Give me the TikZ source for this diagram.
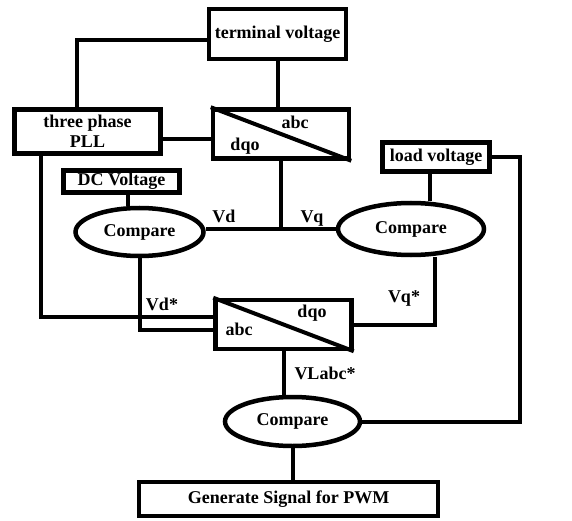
\documentclass[tikz,border=0pt]{standalone}
\usepackage{fontspec}
\setmainfont{Liberation Serif}
\usetikzlibrary{shapes.geometric,positioning}

\begin{document}
\begin{tikzpicture}[x=1pt,y=-1pt,line width=4pt,
                    font=\fontsize{18}{20}\selectfont\bfseries,
                    box node/.style={rectangle,draw,line width=4.5pt,inner sep=1pt},
                    cmp node/.style={ellipse,draw,line width=4.5pt,inner sep=1pt,minimum width=128pt,minimum height=48pt},
                    conv node/.style={rectangle,draw,line width=4.5pt,minimum width=136pt,minimum height=49pt},
                    lbl/.style={inner sep=0pt}]
  \useasboundingbox (0,0) rectangle (572,521);

  \node[box node,minimum width=137pt,minimum height=50pt] (1) at (277.5,34) {terminal voltage};
  \node[box node,minimum width=146pt,minimum height=44pt,align=center] (2) at (87.5,131.5) {three phase\\PLL};
  \node[conv node] (3) at (281,134) {};
  \node[box node,minimum width=107pt,minimum height=29pt] (4) at (436,157) {load voltage};
  \node[box node,minimum width=116pt,minimum height=22pt] (5) at (121.5,181.5) {DC Voltage};
  \node[cmp node] (6) at (139.5,232) {Compare};
  \node[cmp node,minimum width=146pt,minimum height=52pt] (7) at (411,229) {Compare};
  \node[conv node] (8) at (283.5,324.5) {};
  \node[cmp node,minimum width=135pt,minimum height=49pt] (9) at (292.5,421.5) {Compare};
  \node[box node,minimum width=299pt,minimum height=34pt] (10) at (288.5,499) {Generate Signal for PWM};

  \draw (3.north west) -- (3.south east);
  \draw (8.north west) -- (8.south east);

  \node[lbl] (l1) at (295,122) {abc};
  \node[lbl] (l2) at (245,146) {dqo};
  \node[lbl] (l3) at (224,216) {Vd};
  \node[lbl] (l4) at (312,219) {Vq};
  \node[lbl] (l5) at (162,304) {Vd*};
  \node[lbl] (l6) at (404,298) {Vq*};
  \node[lbl] (l7) at (312,313) {dqo};
  \node[lbl] (l8) at (239,329) {abc};
  \node[lbl] (l9) at (325,373) {VLabc*};

  \coordinate (a) at ([xshift=-11pt]2.north);
  \coordinate (b) at ([yshift=-7.5pt]2.east);
  \coordinate (j) at (3.south |- 7.west);
  \coordinate (c) at ([xshift=-6pt]4.south);
  \coordinate (d) at ([xshift=-46.5pt]2.south);
  \coordinate (e) at ([xshift=6.5pt]5.south);
  \coordinate (f) at ([xshift=24pt]7.south);

  \draw (a) |- ([yshift=-6pt]1.west);
  \draw (1.south) -- (1.south |- 3.north);
  \draw (b) -- (b -| 3.west);
  \draw (3.south) -- (j);
  \draw (6.east |- j) -- (7.west);
  \draw (c) -- (c |- 7.north);
  \draw (4.east) -- ++(28.5,0) |- (9.east);
  \draw (d) |- ([yshift=7.5pt]8.west);
  \draw (e) -- (e |- 6.north);
  \draw (6.south) |- ([yshift=-5.5pt]8.west);
  \draw (f) |- (8.east);
  \draw (8.south) -- (8.south |- 9.north);
  \draw (9.south) -- (9.south |- 10.north);
\end{tikzpicture}
\end{document}
